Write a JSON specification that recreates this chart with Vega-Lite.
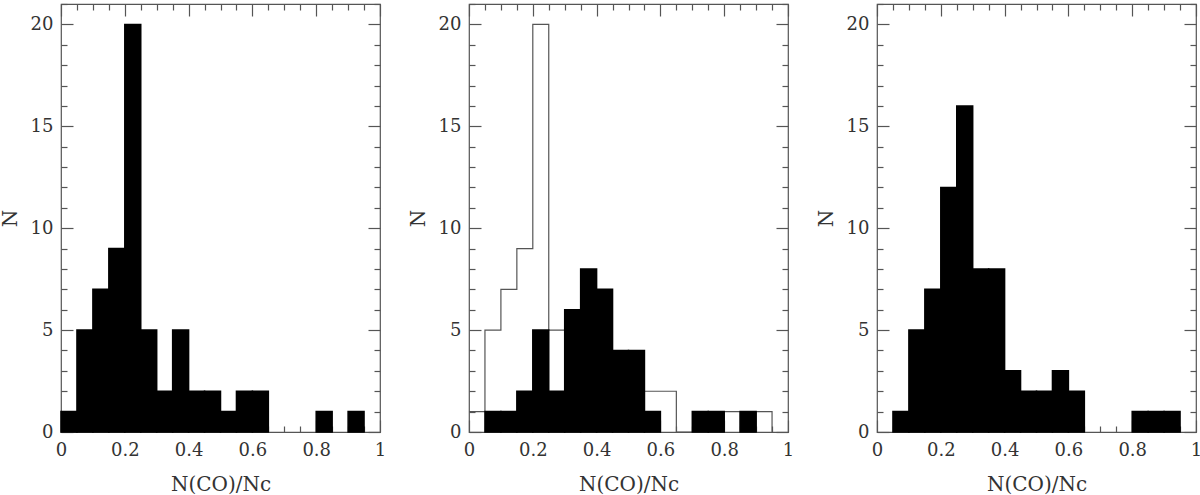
{
  "$schema": "https://vega.github.io/schema/vega-lite/v6.json",
  "padding": {"left": -1, "top": -6, "right": 0, "bottom": 0},
  "background": "white",
  "spacing": 89,
  "bounds": "flush",
  "datasets": {
    "all": [
      {"x0": 0.0, "x1": 0.05, "n": 1}, {"x0": 0.05, "x1": 0.1, "n": 5}, {"x0": 0.1, "x1": 0.15, "n": 7},
      {"x0": 0.15, "x1": 0.2, "n": 9}, {"x0": 0.2, "x1": 0.25, "n": 20}, {"x0": 0.25, "x1": 0.3, "n": 5},
      {"x0": 0.3, "x1": 0.35, "n": 2}, {"x0": 0.35, "x1": 0.4, "n": 5}, {"x0": 0.4, "x1": 0.45, "n": 2},
      {"x0": 0.45, "x1": 0.5, "n": 2}, {"x0": 0.5, "x1": 0.55, "n": 1}, {"x0": 0.55, "x1": 0.6, "n": 2},
      {"x0": 0.6, "x1": 0.65, "n": 2}, {"x0": 0.65, "x1": 0.7, "n": 0}, {"x0": 0.7, "x1": 0.75, "n": 0},
      {"x0": 0.75, "x1": 0.8, "n": 0}, {"x0": 0.8, "x1": 0.85, "n": 1}, {"x0": 0.85, "x1": 0.9, "n": 0},
      {"x0": 0.9, "x1": 0.95, "n": 1}, {"x0": 0.95, "x1": 1.0, "n": 0}
    ],
    "sub": [
      {"x0": 0.05, "x1": 0.1, "n": 1}, {"x0": 0.1, "x1": 0.15, "n": 1}, {"x0": 0.15, "x1": 0.2, "n": 2},
      {"x0": 0.2, "x1": 0.25, "n": 5}, {"x0": 0.25, "x1": 0.3, "n": 2}, {"x0": 0.3, "x1": 0.35, "n": 6},
      {"x0": 0.35, "x1": 0.4, "n": 8}, {"x0": 0.4, "x1": 0.45, "n": 7}, {"x0": 0.45, "x1": 0.5, "n": 4},
      {"x0": 0.5, "x1": 0.55, "n": 4}, {"x0": 0.55, "x1": 0.6, "n": 1}, {"x0": 0.7, "x1": 0.75, "n": 1},
      {"x0": 0.75, "x1": 0.8, "n": 1}, {"x0": 0.85, "x1": 0.9, "n": 1}
    ],
    "third": [
      {"x0": 0.05, "x1": 0.1, "n": 1}, {"x0": 0.1, "x1": 0.15, "n": 5}, {"x0": 0.15, "x1": 0.2, "n": 7},
      {"x0": 0.2, "x1": 0.25, "n": 12}, {"x0": 0.25, "x1": 0.3, "n": 16}, {"x0": 0.3, "x1": 0.35, "n": 8},
      {"x0": 0.35, "x1": 0.4, "n": 8}, {"x0": 0.4, "x1": 0.45, "n": 3}, {"x0": 0.45, "x1": 0.5, "n": 2},
      {"x0": 0.5, "x1": 0.55, "n": 2}, {"x0": 0.55, "x1": 0.6, "n": 3}, {"x0": 0.6, "x1": 0.65, "n": 2},
      {"x0": 0.8, "x1": 0.85, "n": 1}, {"x0": 0.85, "x1": 0.9, "n": 1}, {"x0": 0.9, "x1": 0.95, "n": 1}
    ]
  },
  "config": {
    "view": {"stroke": "#555555", "strokeWidth": 1.2},
    "font": "DejaVu Serif",
    "bar": {"color": "black", "stroke": "black", "strokeWidth": 1.5, "strokeJoin": "miter"},
    "axis": {
      "domain": false,
      "grid": false,
      "tickColor": "#555555",
      "tickWidth": 1.2,
      "labelFont": "DejaVu Serif",
      "labelFontSize": 18,
      "labelColor": "#333333",
      "titleFont": "DejaVu Serif",
      "titleFontSize": 20,
      "titleFontWeight": "normal",
      "titleColor": "#333333",
      "labelOverlap": false,
      "labelFlush": false,
      "labelBound": false
    }
  },
  "hconcat": [
    {
      "width": 319, "height": 428,
      "layer": [
        {
          "data": {"name": "all"},
          "transform": [{"filter": "datum.n > 0"}],
          "mark": {"type": "bar"},
          "encoding": {
            "x": {"field": "x0", "type": "quantitative", "scale": {"domain": [0, 1], "nice": false, "zero": false},
              "axis": {"orient": "bottom", "title": "N(CO)/Nc", "values": [0,0.05,0.1,0.15,0.2,0.25,0.3,0.35,0.4,0.45,0.5,0.55,0.6,0.65,0.7,0.75,0.8,0.85,0.9,0.95,1],
                "labelExpr": "abs(datum.value*5-round(datum.value*5))<0.001 ? toString(round(datum.value*5)/5) : ''",
                "tickSize": {"condition": {"test": "abs(datum.value*5-round(datum.value*5))<0.001", "value": -12}, "value": -6},
                "labelPadding": 21, "titlePadding": 9}},
            "x2": {"field": "x1"},
            "y": {"field": "n", "type": "quantitative", "scale": {"domain": [0, 21], "nice": false},
              "axis": {"orient": "left", "title": "N", "values": [0,1,2,3,4,5,6,7,8,9,10,11,12,13,14,15,16,17,18,19,20,21],
                "labelExpr": "datum.value % 5 == 0 ? toString(datum.value) : ''",
                "tickSize": {"condition": {"test": "datum.value % 5 == 0", "value": -12}, "value": -6},
                "labelPadding": 20, "titleX": -41}},
            "y2": {"datum": 0}
          }
        },
        {
          "data": {"name": "all"},
          "mark": {"type": "bar", "opacity": 0, "strokeOpacity": 0},
          "encoding": {
            "x": {"field": "x0", "type": "quantitative",
              "axis": {"orient": "top", "title": null, "labels": false, "values": [0,0.05,0.1,0.15,0.2,0.25,0.3,0.35,0.4,0.45,0.5,0.55,0.6,0.65,0.7,0.75,0.8,0.85,0.9,0.95,1],
                "tickSize": {"condition": {"test": "abs(datum.value*5-round(datum.value*5))<0.001", "value": -12}, "value": -6}}},
            "x2": {"field": "x1"},
            "y": {"field": "n", "type": "quantitative",
              "axis": {"orient": "right", "title": null, "labels": false, "values": [0,1,2,3,4,5,6,7,8,9,10,11,12,13,14,15,16,17,18,19,20,21],
                "tickSize": {"condition": {"test": "datum.value % 5 == 0", "value": -12}, "value": -6}}},
            "y2": {"datum": 0}
          }
        }
      ],
      "resolve": {"axis": {"x": "independent", "y": "independent"}}
    },
    {
      "width": 319, "height": 428,
      "layer": [
        {
          "data": {"name": "all"},
          "mark": {"type": "line", "interpolate": "step-after", "color": "#555555", "strokeWidth": 1.2},
          "encoding": {
            "x": {"field": "x0", "type": "quantitative", "scale": {"domain": [0, 1], "nice": false, "zero": false},
              "axis": {"orient": "bottom", "title": "N(CO)/Nc", "values": [0,0.05,0.1,0.15,0.2,0.25,0.3,0.35,0.4,0.45,0.5,0.55,0.6,0.65,0.7,0.75,0.8,0.85,0.9,0.95,1],
                "labelExpr": "abs(datum.value*5-round(datum.value*5))<0.001 ? toString(round(datum.value*5)/5) : ''",
                "tickSize": {"condition": {"test": "abs(datum.value*5-round(datum.value*5))<0.001", "value": -12}, "value": -6},
                "labelPadding": 21, "titlePadding": 9}},
            "y": {"field": "n", "type": "quantitative", "scale": {"domain": [0, 21], "nice": false},
              "axis": {"orient": "left", "title": "N", "values": [0,1,2,3,4,5,6,7,8,9,10,11,12,13,14,15,16,17,18,19,20,21],
                "labelExpr": "datum.value % 5 == 0 ? toString(datum.value) : ''",
                "tickSize": {"condition": {"test": "datum.value % 5 == 0", "value": -12}, "value": -6},
                "labelPadding": 20, "titleX": -41}}
          }
        },
        {
          "data": {"name": "sub"},
          "mark": {"type": "bar"},
          "encoding": {
            "x": {"field": "x0", "type": "quantitative",
              "axis": {"orient": "top", "title": null, "labels": false, "values": [0,0.05,0.1,0.15,0.2,0.25,0.3,0.35,0.4,0.45,0.5,0.55,0.6,0.65,0.7,0.75,0.8,0.85,0.9,0.95,1],
                "tickSize": {"condition": {"test": "abs(datum.value*5-round(datum.value*5))<0.001", "value": -12}, "value": -6}}},
            "x2": {"field": "x1"},
            "y": {"field": "n", "type": "quantitative",
              "axis": {"orient": "right", "title": null, "labels": false, "values": [0,1,2,3,4,5,6,7,8,9,10,11,12,13,14,15,16,17,18,19,20,21],
                "tickSize": {"condition": {"test": "datum.value % 5 == 0", "value": -12}, "value": -6}}},
            "y2": {"datum": 0}
          }
        }
      ],
      "resolve": {"axis": {"x": "independent", "y": "independent"}}
    },
    {
      "width": 319, "height": 428,
      "layer": [
        {
          "data": {"name": "third"},
          "mark": {"type": "bar"},
          "encoding": {
            "x": {"field": "x0", "type": "quantitative", "scale": {"domain": [0, 1], "nice": false, "zero": false},
              "axis": {"orient": "bottom", "title": "N(CO)/Nc", "values": [0,0.05,0.1,0.15,0.2,0.25,0.3,0.35,0.4,0.45,0.5,0.55,0.6,0.65,0.7,0.75,0.8,0.85,0.9,0.95,1],
                "labelExpr": "abs(datum.value*5-round(datum.value*5))<0.001 ? toString(round(datum.value*5)/5) : ''",
                "tickSize": {"condition": {"test": "abs(datum.value*5-round(datum.value*5))<0.001", "value": -12}, "value": -6},
                "labelPadding": 21, "titlePadding": 9}},
            "x2": {"field": "x1"},
            "y": {"field": "n", "type": "quantitative", "scale": {"domain": [0, 21], "nice": false},
              "axis": {"orient": "left", "title": "N", "values": [0,1,2,3,4,5,6,7,8,9,10,11,12,13,14,15,16,17,18,19,20,21],
                "labelExpr": "datum.value % 5 == 0 ? toString(datum.value) : ''",
                "tickSize": {"condition": {"test": "datum.value % 5 == 0", "value": -12}, "value": -6},
                "labelPadding": 20, "titleX": -41}},
            "y2": {"datum": 0}
          }
        },
        {
          "data": {"name": "third"},
          "mark": {"type": "bar", "opacity": 0, "strokeOpacity": 0},
          "encoding": {
            "x": {"field": "x0", "type": "quantitative",
              "axis": {"orient": "top", "title": null, "labels": false, "values": [0,0.05,0.1,0.15,0.2,0.25,0.3,0.35,0.4,0.45,0.5,0.55,0.6,0.65,0.7,0.75,0.8,0.85,0.9,0.95,1],
                "tickSize": {"condition": {"test": "abs(datum.value*5-round(datum.value*5))<0.001", "value": -12}, "value": -6}}},
            "x2": {"field": "x1"},
            "y": {"field": "n", "type": "quantitative",
              "axis": {"orient": "right", "title": null, "labels": false, "values": [0,1,2,3,4,5,6,7,8,9,10,11,12,13,14,15,16,17,18,19,20,21],
                "tickSize": {"condition": {"test": "datum.value % 5 == 0", "value": -12}, "value": -6}}},
            "y2": {"datum": 0}
          }
        }
      ],
      "resolve": {"axis": {"x": "independent", "y": "independent"}}
    }
  ]
}
